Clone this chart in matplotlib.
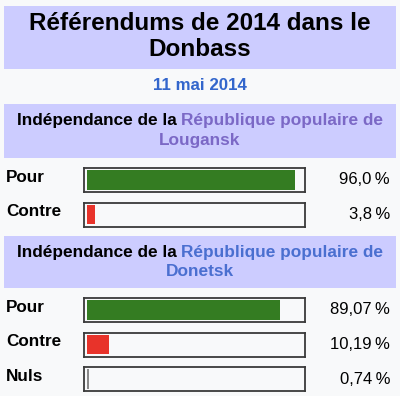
import matplotlib
matplotlib.use("Agg")
import matplotlib.pyplot as plt

plt.rcParams['font.family'] = ['Liberation Sans', 'DejaVu Sans']

title_lines = ['Référendums de 2014 dans le', 'Donbass']
date_label = '11 mai 2014'

lougansk_labels = ['Pour', 'Contre']
lougansk_values = [96.0, 3.8]
lougansk_texts = ['96,0\u2009%', '3,8\u2009%']

donetsk_labels = ['Pour', 'Contre', 'Nuls']
donetsk_values = [89.07, 10.19, 0.74]
donetsk_texts = ['89,07\u2009%', '10,19\u2009%', '0,74\u2009%']

bar_colors = {'Pour': '#347c22', 'Contre': '#e8332a', 'Nuls': '#8a8a8a'}

BG = '#f8f9fa'
HEAD = '#ccccff'
W, H = 400, 396

fig = plt.figure(figsize=(W / 100, H / 100), dpi=100, facecolor=BG)
ax = fig.add_axes([0, 0, 1, 1])
ax.set_xlim(0, W)
ax.set_ylim(H, 0)
ax.axis('off')


def head_box(y0, y1):
    ax.add_patch(plt.Rectangle((4, y0), 392, y1 - y0, color=HEAD, lw=0))


def two_color_line(y, left, right, color):
    r = fig.canvas.get_renderer()
    kw = dict(fontsize=12.4, fontweight='bold', va='center', ha='left')
    t1 = ax.text(0, y, left, color='black', **kw)
    t2 = ax.text(0, y, right, color=color, **kw)
    w1 = t1.get_window_extent(r).width
    w2 = t2.get_window_extent(r).width
    x0 = 200 - (w1 + w2) / 2
    t1.set_x(x0)
    t2.set_x(x0 + w1)


def rows(top, labels, values, texts):
    for i, (lab, val, txt) in enumerate(zip(labels, values, texts)):
        y0 = top + i * 34.5
        ax.text(6, y0 + 9.5, lab, fontsize=12.3, fontweight='bold',
                va='center', ha='left')
        ax.text(390, y0 + 12, txt, fontsize=12, va='center', ha='right')
        bax = fig.add_axes([84 / W, 1 - (y0 + 24) / H, 221 / W, 24 / H])
        bax.set_facecolor(BG)
        bax.barh(0, val, height=1, color=bar_colors[lab], left=0)
        bax.set_xlim(-1.4, 100.4)
        bax.set_ylim(-0.62, 0.62)
        bax.set_xticks([])
        bax.set_yticks([])
        for s in bax.spines.values():
            s.set_color('#3a3a3a')
            s.set_linewidth(1.3)


# title
head_box(6, 69)
ax.text(200, 23, title_lines[0], fontsize=17.5, fontweight='bold',
        ha='center', va='center')
ax.text(200, 50, title_lines[1], fontsize=17.5, fontweight='bold',
        ha='center', va='center')
ax.text(200, 86, date_label, fontsize=12.2, fontweight='bold',
        color='#3366cc', ha='center', va='center')

# Lougansk
head_box(104, 158)
two_color_line(121, 'Indépendance de la ', 'République populaire de', '#7b68c6')
ax.text(200, 141, 'Lougansk', fontsize=12.4, fontweight='bold',
        color='#7b68c6', ha='center', va='center')
rows(168, lougansk_labels, lougansk_values, lougansk_texts)

# Donetsk
head_box(236, 288)
two_color_line(252, 'Indépendance de la ', 'République populaire de', '#4a6fd0')
ax.text(200, 272, 'Donetsk', fontsize=12.4, fontweight='bold',
        color='#4a6fd0', ha='center', va='center')
rows(298, donetsk_labels, donetsk_values, donetsk_texts)

fig.savefig('out.png', dpi=100, facecolor=BG)
